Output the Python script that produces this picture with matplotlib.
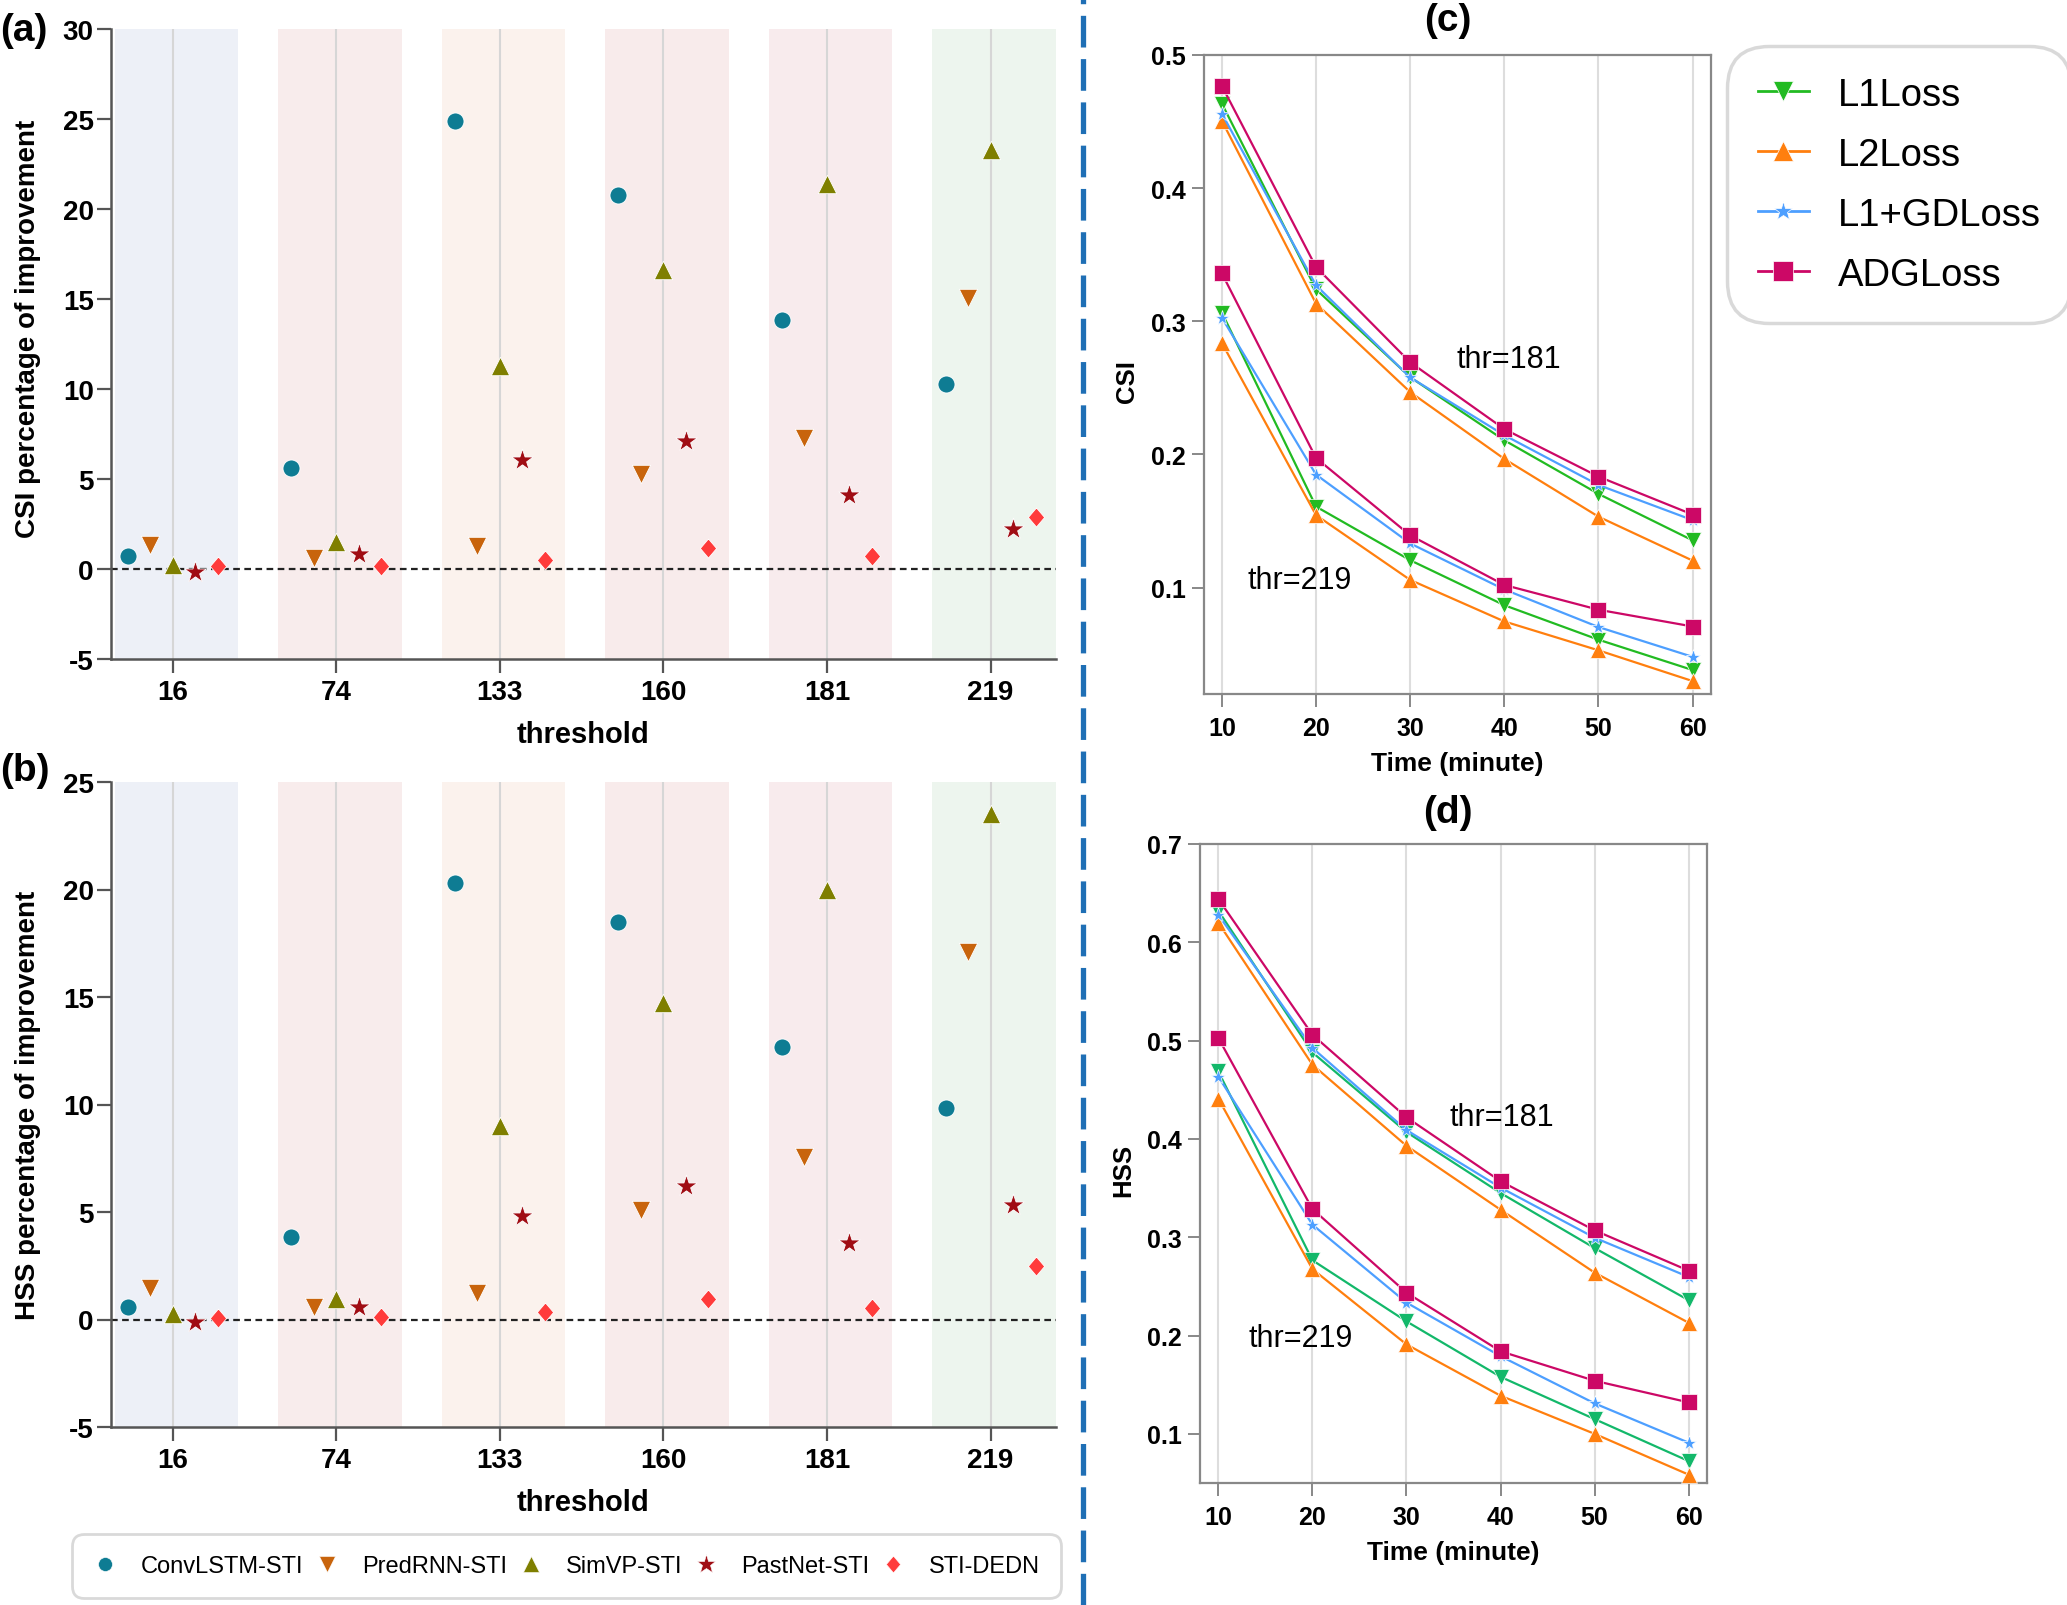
import matplotlib
matplotlib.use("Agg")
import matplotlib.pyplot as plt
from matplotlib.lines import Line2D
import numpy as np

plt.rcParams['font.family'] = ['Liberation Sans', 'DejaVu Sans']

# ---------------- data ----------------
thresholds = ['16', '74', '133', '160', '181', '219']
models = ['ConvLSTM-STI', 'PredRNN-STI', 'SimVP-STI', 'PastNet-STI', 'STI-DEDN']

csi_convlstm = [0.71, 5.59, 24.9, 20.8, 13.85, 10.3]
csi_predrnn = [1.36, 0.62, 1.28, 5.3, 7.28, 15.04]
csi_simvp = [0.22, 1.5, 11.3, 16.6, 21.4, 23.3]
csi_pastnet = [-0.19, 0.84, 6.05, 7.11, 4.13, 2.2]
csi_stidedn = [0.14, 0.16, 0.49, 1.19, 0.73, 2.9]

hss_convlstm = [0.57, 3.85, 20.3, 18.5, 12.67, 9.85]
hss_predrnn = [1.47, 0.6, 1.25, 5.1, 7.57, 17.1]
hss_simvp = [0.27, 0.95, 9.0, 14.7, 20.0, 23.5]
hss_pastnet = [-0.13, 0.6, 4.83, 6.2, 3.57, 5.33]
hss_stidedn = [0.09, 0.11, 0.37, 0.97, 0.55, 2.5]

time_min = [10, 20, 30, 40, 50, 60]
losses = ['L1Loss', 'L2Loss', 'L1+GDLoss', 'ADGLoss']

csi181_l1 = [0.4635, 0.324, 0.258, 0.2106, 0.1703, 0.1354]
csi181_l2 = [0.4506, 0.3133, 0.2468, 0.1966, 0.1532, 0.1202]
csi181_gd = [0.456, 0.327, 0.2578, 0.2144, 0.177, 0.1506]
csi181_adg = [0.4768, 0.3407, 0.2692, 0.219, 0.1833, 0.1548]
csi219_l1 = [0.3065, 0.1608, 0.1205, 0.0867, 0.0608, 0.038]
csi219_l2 = [0.2837, 0.1544, 0.1057, 0.0745, 0.0528, 0.0297]
csi219_gd = [0.3027, 0.1848, 0.1331, 0.0985, 0.0703, 0.0479]
csi219_adg = [0.336, 0.1973, 0.1392, 0.1019, 0.0833, 0.0707]

hss181_l1 = [0.632, 0.488, 0.407, 0.345, 0.289, 0.236]
hss181_l2 = [0.620, 0.4755, 0.393, 0.328, 0.264, 0.213]
hss181_gd = [0.628, 0.4926, 0.409, 0.3505, 0.2995, 0.2596]
hss181_adg = [0.644, 0.506, 0.422, 0.357, 0.307, 0.266]
hss219_l1 = [0.4686, 0.2766, 0.2144, 0.158, 0.115, 0.0723]
hss219_l2 = [0.441, 0.2676, 0.191, 0.1388, 0.1, 0.0585]
hss219_gd = [0.4633, 0.3128, 0.2335, 0.179, 0.131, 0.091]
hss219_adg = [0.5027, 0.3287, 0.2436, 0.184, 0.154, 0.132]

# ---------------- styles ----------------
model_colors = ['#0e7c93', '#c8640c', '#7f7f00', '#a00d14', '#ff3b3b']
diamond = [(0, 1), (0.85, 0), (0, -1), (-0.85, 0), (0, 1)]
model_markers = ['o', 'v', '^', '*', diamond]
model_sizes = [150, 175, 175, 270, 190]
band_colors = ['#edf0f7', '#f8ecec', '#fbf2ed', '#f8ebeb', '#f8ebed', '#edf5ee']
loss_markers = ['v', '^', '*', 's']
loss_ms = [12, 12, 11, 11]

W, H = 2067, 1606
fig = plt.figure(figsize=(W / 100, H / 100), dpi=100)


def fx(px):
    return px / W


def fy(py):
    return 1 - py / H


def scatter_panel(ax, series, ymin, ymax, yticks, ylabel, xlab_y, ylab_y):
    x = np.arange(len(thresholds))
    offs = [-2, -1, 0, 1, 2]
    d = 0.1375
    ax.set_xlim(-0.38, 5.40)
    ax.set_ylim(ymin, ymax)
    for i in range(len(thresholds)):
        ax.axvspan(i - 0.355, i + 0.40, color=band_colors[i], lw=0, zorder=0)
        ax.plot([i, i], [ymin, ymax], color='#d6d6d6', lw=1.5, zorder=1)
    ax.axhline(0, color='#222222', lw=1.6, ls=(0, (3, 2)), zorder=2)
    for k, vals in enumerate(series):
        ax.scatter(x + offs[k] * d, vals, marker=model_markers[k], s=model_sizes[k],
                   color=model_colors[k], edgecolors='white', linewidths=0.6,
                   zorder=4, label=models[k])
    ax.set_xticks(x)
    ax.set_xticklabels(thresholds)
    ax.set_yticks(yticks)
    ax.set_yticklabels([str(t) for t in yticks])
    for s in ['top', 'right']:
        ax.spines[s].set_visible(False)
    for s in ['left', 'bottom']:
        ax.spines[s].set_color('#555555')
        ax.spines[s].set_linewidth(1.8)
    ax.tick_params(axis='both', direction='out', length=10, width=1.6, color='#555555',
                   labelsize=20)
    ax.tick_params(axis='y', pad=2)
    ax.tick_params(axis='x', pad=4.5)
    for lab in ax.get_xticklabels() + ax.get_yticklabels():
        lab.set_fontweight('bold')
    ax.set_ylabel(ylabel, fontsize=20, fontweight='bold')
    ax.yaxis.set_label_coords(-0.074, ylab_y)
    ax.set_xlabel('threshold', fontsize=21, fontweight='bold')
    ax.xaxis.set_label_coords(0.5, xlab_y)


ax_a = fig.add_axes([fx(110.5), fy(660), fx(1056) - fx(110.5), (660 - 30) / H])
scatter_panel(ax_a, [csi_convlstm, csi_predrnn, csi_simvp, csi_pastnet, csi_stidedn],
              -5, 30, [-5, 0, 5, 10, 15, 20, 25, 30], 'CSI percentage of improvement',
              -0.097, 0.525)

ax_b = fig.add_axes([fx(110.5), fy(1428), fx(1056) - fx(110.5), (1428 - 783) / H])
scatter_panel(ax_b, [hss_convlstm, hss_predrnn, hss_simvp, hss_pastnet, hss_stidedn],
              -5, 25, [-5, 0, 5, 10, 15, 20, 25], 'HSS percentage of improvement',
              -0.095, 0.5)

# legend for (a)/(b)
leg_ms = [10, 11, 11, 14, 12]
handles = [Line2D([], [], ls='none', marker=model_markers[k], color=model_colors[k],
                  markersize=leg_ms[k], markeredgecolor='white', markeredgewidth=0.4)
           for k in range(5)]
leg = fig.legend(handles, models, loc='center', ncol=5,
                 bbox_to_anchor=(fx(72), fy(1601), fx(1061) - fx(72), (1601 - 1533) / H),
                 mode='expand', fontsize=17, handlelength=1.0, handletextpad=1.0,
                 borderaxespad=0, borderpad=0.9, frameon=True, fancybox=True)
leg.get_frame().set_edgecolor('#d0d0d0')
leg.get_frame().set_linewidth(2)
leg.get_frame().set_boxstyle('round,pad=0,rounding_size=0.5')


def line_panel(ax, s181, s219, ylim, yticks, ylabel, t181, t219, l1color):
    colors = [l1color, '#ff7f0e', '#4d9fff', '#cc0866']
    for grp in (s181, s219):
        for k, vals in enumerate(grp):
            ax.plot(time_min, vals, color=colors[k], lw=1.6, marker=loss_markers[k],
                    ms=loss_ms[k], mec='white', mew=0.5, zorder=3 + k, label=losses[k])
    ax.set_xlim(8.05, 61.95)
    ax.set_ylim(*ylim)
    ax.set_xticks(time_min)
    ax.set_yticks(yticks)
    ax.set_yticklabels(['%.1f' % t for t in yticks])
    for t in time_min:
        ax.axvline(t, color='#dddddd', lw=1.5, zorder=0)
    for s in ax.spines.values():
        s.set_color('#888888')
        s.set_linewidth(1.6)
    ax.tick_params(axis='both', direction='out', length=9, width=1.4, color='#888888',
                   labelsize=18)
    ax.tick_params(axis='y', pad=4)
    ax.tick_params(axis='x', pad=6.5)
    for lab in ax.get_xticklabels() + ax.get_yticklabels():
        lab.set_fontweight('bold')
    ax.set_ylabel(ylabel, fontsize=18.5, fontweight='bold')
    ax.yaxis.set_label_coords(-0.128, 0.49)
    ax.set_xlabel('Time (minute)', fontsize=19, fontweight='bold')
    ax.xaxis.set_label_coords(0.5, -0.089)
    ax.text(t181[0], t181[1], 'thr=181', fontsize=22, va='center', ha='left')
    ax.text(t219[0], t219[1], 'thr=219', fontsize=22, va='center', ha='left')
    return colors


ax_c = fig.add_axes([fx(1203.5), fy(695), fx(1711) - fx(1203.5), (695 - 56) / H])
cols = line_panel(ax_c, [csi181_l1, csi181_l2, csi181_gd, csi181_adg],
                  [csi219_l1, csi219_l2, csi219_gd, csi219_adg],
                  (0.02, 0.5), [0.1, 0.2, 0.3, 0.4, 0.5], 'CSI',
                  (34.9, 0.272), (12.7, 0.1057), '#22bb22')

ax_d = fig.add_axes([fx(1200), fy(1484), fx(1707) - fx(1200), (1484 - 845) / H])
line_panel(ax_d, [hss181_l1, hss181_l2, hss181_gd, hss181_adg],
           [hss219_l1, hss219_l2, hss219_gd, hss219_adg],
           (0.05, 0.7), [0.1, 0.2, 0.3, 0.4, 0.5, 0.6, 0.7], 'HSS',
           (34.6, 0.422), (13.2, 0.197), '#13b86a')

# legend for (c)
lh = [Line2D([], [], color=cols[k], lw=2, marker=loss_markers[k], ms=[15, 15, 14, 14][k],
             mec='white', mew=0.5) for k in range(4)]
leg2 = fig.legend(lh, losses, loc='upper left', bbox_to_anchor=(fx(1727), fy(47)),
                  fontsize=27.5, handlelength=1.35, handletextpad=0.75, labelspacing=0.63,
                  borderpad=0.8, borderaxespad=0, frameon=True, fancybox=True)
leg2.get_frame().set_edgecolor('#d0d0d0')
leg2.get_frame().set_linewidth(2.5)
leg2.get_frame().set_boxstyle('round,pad=0,rounding_size=1.1')

# panel labels
fig.text(fx(0), fy(31), '(a)', fontsize=28, fontweight='bold', ha='left', va='center')
fig.text(fx(0), fy(771), '(b)', fontsize=28, fontweight='bold', ha='left', va='center')
fig.text(fx(1448), fy(21), '(c)', fontsize=28, fontweight='bold', ha='center', va='center')
fig.text(fx(1448), fy(813), '(d)', fontsize=28, fontweight='bold', ha='center', va='center')

# dashed divider
fig.add_artist(Line2D([fx(1083), fx(1083)], [0, 1], transform=fig.transFigure,
                      color='#1f6fb5', lw=3.8, ls=(0, (6, 2.2))))

fig.savefig('out.png', dpi=100)
